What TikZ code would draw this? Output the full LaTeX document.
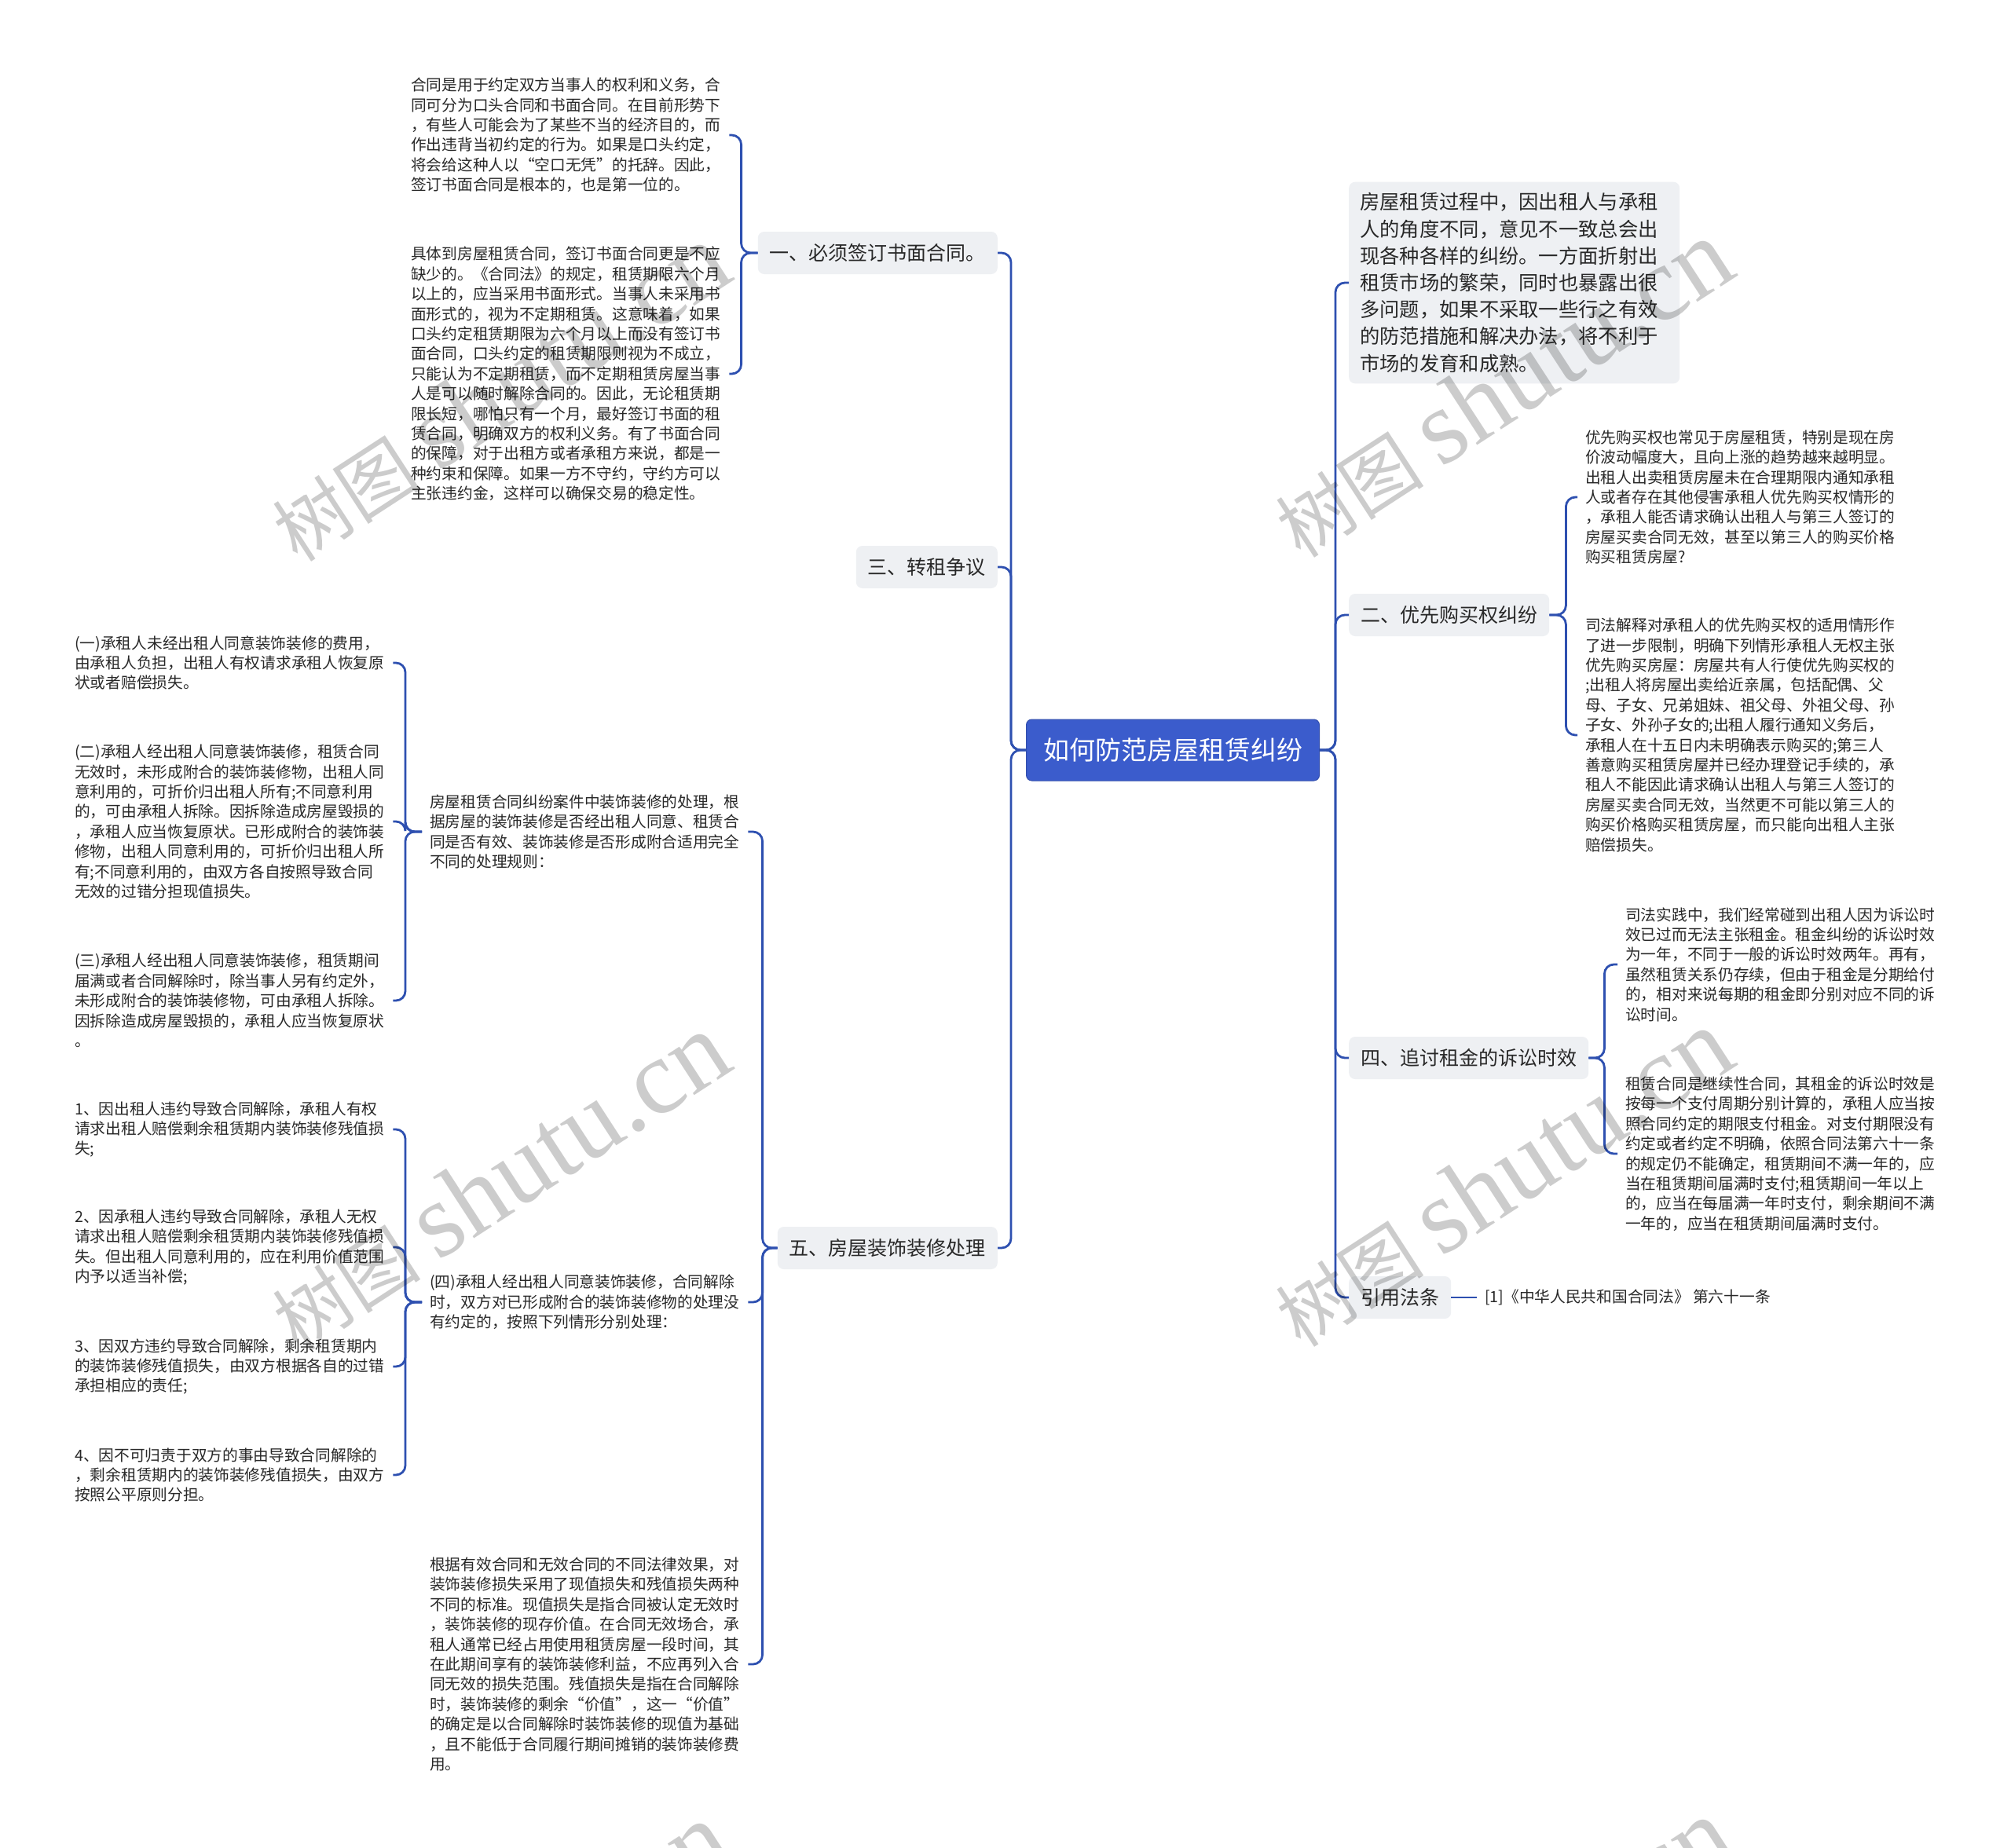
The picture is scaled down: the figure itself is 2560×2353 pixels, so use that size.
\documentclass[tikz,border=0pt]{standalone}
\usepackage{fontspec}
\setmainfont{Noto Sans CJK SC}
\newfontfamily\wmlat{Liberation Serif}
\definecolor{lineblue}{RGB}{46,80,176}
\definecolor{rootblue}{RGB}{59,92,204}
\definecolor{boxgray}{RGB}{238,240,243}
\definecolor{textgray}{RGB}{40,40,40}
\tikzset{
  conn/.style={draw=lineblue, line width=2.8pt, rounded corners=12pt},
  rootbox/.style={fill=rootblue, draw=rootblue!85!black, line width=1pt, rounded corners=7pt, text=white, font=\fontsize{33}{40}\selectfont, minimum width=373pt, minimum height=78pt, inner sep=0pt},
  topicbox/.style={fill=boxgray, rounded corners=8pt, text=textgray, font=\fontsize{25}{32}\selectfont, inner xsep=15pt, inner ysep=0pt, minimum height=54pt},
  introbox/.style={fill=boxgray, rounded corners=8pt, text=textgray, font=\fontsize{25.3}{34.2}\selectfont, align=left, text width=393pt, inner xsep=14pt, inner ysep=14pt},
  para/.style={text=textgray, font=\fontsize{19.7}{25.4}\selectfont, align=left, text width=395pt, inner xsep=10pt, inner ysep=3pt},
  cite/.style={text=textgray, font=\fontsize{19.7}{25.4}\selectfont, inner xsep=10pt},
  wm/.style={text=black, text opacity=0.2, rotate=33, inner sep=0pt}
}
\newcommand{\wmtext}{{\fontsize{95}{95}\selectfont 树图}\hspace{22pt}{\wmlat\fontsize{135}{135}\selectfont shutu.cn}}
\begin{document}
\begin{tikzpicture}[x=1pt,y=-1pt]
\fill[white] (0,0) rectangle (2560,2353);
\useasboundingbox (0,0) rectangle (2560,2353);

% root
\node[rootbox] (root) at (1493,955) {如何防范房屋租赁纠纷};

% level 1 left
\node[topicbox, anchor=east] (n1) at (1270,322) {一、必须签订书面合同。};
\node[topicbox, anchor=east] (n3) at (1270,722) {三、转租争议};
\node[topicbox, anchor=east] (n5) at (1270,1589) {五、房屋装饰装修处理};

% level 1 right
\node[introbox, anchor=west] (rtop) at (1717,360) {房屋租赁过程中，因出租人与承租\\人的角度不同，意见不一致总会出\\现各种各样的纠纷。一方面折射出\\租赁市场的繁荣，同时也暴露出很\\多问题，如果不采取一些行之有效\\的防范措施和解决办法，将不利于\\市场的发育和成熟。};
\node[topicbox, anchor=west] (n2) at (1717,783) {二、优先购买权纠纷};
\node[topicbox, anchor=west] (n4) at (1717,1347) {四、追讨租金的诉讼时效};
\node[topicbox, anchor=west] (nref) at (1717,1652) {引用法条};
\node[cite, anchor=west] (citetext) at (1880,1652) {[1]《中华人民共和国合同法》 第六十一条};

% level 2 under n1
\node[para, anchor=west] (b1) at (513,172) {合同是用于约定双方当事人的权利和义务，合\\同可分为口头合同和书面合同。在目前形势下\\，有些人可能会为了某些不当的经济目的，而\\作出违背当初约定的行为。如果是口头约定，\\将会给这种人以“空口无凭”的托辞。因此，\\签订书面合同是根本的，也是第一位的。};
\node[para, anchor=west] (b2) at (513,476) {具体到房屋租赁合同，签订书面合同更是不应\\缺少的。《合同法》的规定，租赁期限六个月\\以上的，应当采用书面形式。当事人未采用书\\面形式的，视为不定期租赁。这意味着，如果\\口头约定租赁期限为六个月以上而没有签订书\\面合同，口头约定的租赁期限则视为不成立，\\只能认为不定期租赁，而不定期租赁房屋当事\\人是可以随时解除合同的。因此，无论租赁期\\限长短，哪怕只有一个月，最好签订书面的租\\赁合同，明确双方的权利义务。有了书面合同\\的保障，对于出租方或者承租方来说，都是一\\种约束和保障。如果一方不守约，守约方可以\\主张违约金，这样可以确保交易的稳定性。};

% level 2 under n5
\node[para, anchor=west] (b5a) at (537,1059) {房屋租赁合同纠纷案件中装饰装修的处理，根\\据房屋的装饰装修是否经出租人同意、租赁合\\同是否有效、装饰装修是否形成附合适用完全\\不同的处理规则：};
\node[para, anchor=west] (b5b) at (537,1658) {(四)承租人经出租人同意装饰装修，合同解除\\时，双方对已形成附合的装饰装修物的处理没\\有约定的，按照下列情形分别处理：};
\node[para, anchor=west] (b5c) at (537,2119) {根据有效合同和无效合同的不同法律效果，对\\装饰装修损失采用了现值损失和残值损失两种\\不同的标准。现值损失是指合同被认定无效时\\，装饰装修的现存价值。在合同无效场合，承\\租人通常已经占用使用租赁房屋一段时间，其\\在此期间享有的装饰装修利益，不应再列入合\\同无效的损失范围。残值损失是指在合同解除\\时，装饰装修的剩余“价值”，这一“价值”\\的确定是以合同解除时装饰装修的现值为基础\\，且不能低于合同履行期间摊销的装饰装修费\\用。};

% level 3 under b5a
\node[para, anchor=west] (c1) at (85,844) {(一)承租人未经出租人同意装饰装修的费用，\\由承租人负担，出租人有权请求承租人恢复原\\状或者赔偿损失。};
\node[para, anchor=west] (c2) at (85,1046) {(二)承租人经出租人同意装饰装修，租赁合同\\无效时，未形成附合的装饰装修物，出租人同\\意利用的，可折价归出租人所有;不同意利用\\的，可由承租人拆除。因拆除造成房屋毁损的\\，承租人应当恢复原状。已形成附合的装饰装\\修物，出租人同意利用的，可折价归出租人所\\有;不同意利用的，由双方各自按照导致合同\\无效的过错分担现值损失。};
\node[para, anchor=west] (c3) at (85,1274) {(三)承租人经出租人同意装饰装修，租赁期间\\届满或者合同解除时，除当事人另有约定外，\\未形成附合的装饰装修物，可由承租人拆除。\\因拆除造成房屋毁损的，承租人应当恢复原状\\。};

% level 3 under b5b
\node[para, anchor=west] (d1) at (85,1438) {1、因出租人违约导致合同解除，承租人有权\\请求出租人赔偿剩余租赁期内装饰装修残值损\\失;};
\node[para, anchor=west] (d2) at (85,1588) {2、因承租人违约导致合同解除，承租人无权\\请求出租人赔偿剩余租赁期内装饰装修残值损\\失。但出租人同意利用的，应在利用价值范围\\内予以适当补偿;};
\node[para, anchor=west] (d3) at (85,1740) {3、因双方违约导致合同解除，剩余租赁期内\\的装饰装修残值损失，由双方根据各自的过错\\承担相应的责任;};
\node[para, anchor=west] (d4) at (85,1878) {4、因不可归责于双方的事由导致合同解除的\\，剩余租赁期内的装饰装修残值损失，由双方\\按照公平原则分担。};

% level 2 right
\node[para, anchor=west] (ra) at (2008,633) {优先购买权也常见于房屋租赁，特别是现在房\\价波动幅度大，且向上涨的趋势越来越明显。\\出租人出卖租赁房屋未在合理期限内通知承租\\人或者存在其他侵害承租人优先购买权情形的\\，承租人能否请求确认出租人与第三人签订的\\房屋买卖合同无效，甚至以第三人的购买价格\\购买租赁房屋?};
\node[para, anchor=west] (rb) at (2008,936) {司法解释对承租人的优先购买权的适用情形作\\了进一步限制，明确下列情形承租人无权主张\\优先购买房屋：房屋共有人行使优先购买权的\\;出租人将房屋出卖给近亲属，包括配偶、父\\母、子女、兄弟姐妹、祖父母、外祖父母、孙\\子女、外孙子女的;出租人履行通知义务后，\\承租人在十五日内未明确表示购买的;第三人\\善意购买租赁房屋并已经办理登记手续的，承\\租人不能因此请求确认出租人与第三人签订的\\房屋买卖合同无效，当然更不可能以第三人的\\购买价格购买租赁房屋，而只能向出租人主张\\赔偿损失。};
\node[para, anchor=west] (rc) at (2059,1228) {司法实践中，我们经常碰到出租人因为诉讼时\\效已过而无法主张租金。租金纠纷的诉讼时效\\为一年，不同于一般的诉讼时效两年。再有，\\虽然租赁关系仍存续，但由于租金是分期给付\\的，相对来说每期的租金即分别对应不同的诉\\讼时间。};
\node[para, anchor=west] (rd) at (2059,1469) {租赁合同是继续性合同，其租金的诉讼时效是\\按每一个支付周期分别计算的，承租人应当按\\照合同约定的期限支付租金。对支付期限没有\\约定或者约定不明确，依照合同法第六十一条\\的规定仍不能确定，租赁期间不满一年的，应\\当在租赁期间届满时支付;租赁期间一年以上\\的，应当在每届满一年时支付，剩余期间不满\\一年的，应当在租赁期间届满时支付。};

% connectors
\draw[conn] (root.west) -- ++(-19,0) |- (n1.east);
\draw[conn] (root.west) -- ++(-19,0) |- (n3.east);
\draw[conn] (root.west) -- ++(-19,0) |- (n5.east);
\draw[conn] (root.east) -- ++(20,0) |- (rtop.west);
\draw[conn] (root.east) -- ++(20,0) |- (n2.west);
\draw[conn] (root.east) -- ++(20,0) |- (n4.west);
\draw[conn] (root.east) -- ++(20,0) |- (nref.west);

\draw[conn] (n1.west) -- ++(-21,0) |- (b1.east);
\draw[conn] (n1.west) -- ++(-21,0) |- (b2.east);

\draw[conn] (n5.west) -- ++(-19,0) |- (b5a.east);
\draw[conn] (n5.west) -- ++(-19,0) |- (b5b.east);
\draw[conn] (n5.west) -- ++(-19,0) |- (b5c.east);

\draw[conn] (b5a.west) -- ++(-21,0) |- (c1.east);
\draw[conn] (b5a.west) -- ++(-21,0) |- (c2.east);
\draw[conn] (b5a.west) -- ++(-21,0) |- (c3.east);

\draw[conn] (b5b.west) -- ++(-21,0) |- (d1.east);
\draw[conn] (b5b.west) -- ++(-21,0) |- (d2.east);
\draw[conn] (b5b.west) -- ++(-21,0) |- (d3.east);
\draw[conn] (b5b.west) -- ++(-21,0) |- (d4.east);

\draw[conn] (n2.east) -- ++(21,0) |- (ra.west);
\draw[conn] (n2.east) -- ++(21,0) |- (rb.west);
\draw[conn] (n4.east) -- ++(20,0) |- (rc.west);
\draw[conn] (n4.east) -- ++(20,0) |- (rd.west);

\draw[conn] (nref.east) -- (citetext.west);

% watermarks
\begin{scope}
\clip (0,0) rectangle (2560,2353);
\node[wm] (w1) at (635,500) {\wmtext};
\node[wm] (w2) at (635,1505) {\wmtext};
\node[wm] (w3) at (1912,495) {\wmtext};
\node[wm] (w4) at (1912,1500) {\wmtext};
\node[wm] (w5) at (635,2510) {\wmtext};
\node[wm] (w6) at (1912,2505) {\wmtext};
\end{scope}
\end{tikzpicture}
\end{document}
